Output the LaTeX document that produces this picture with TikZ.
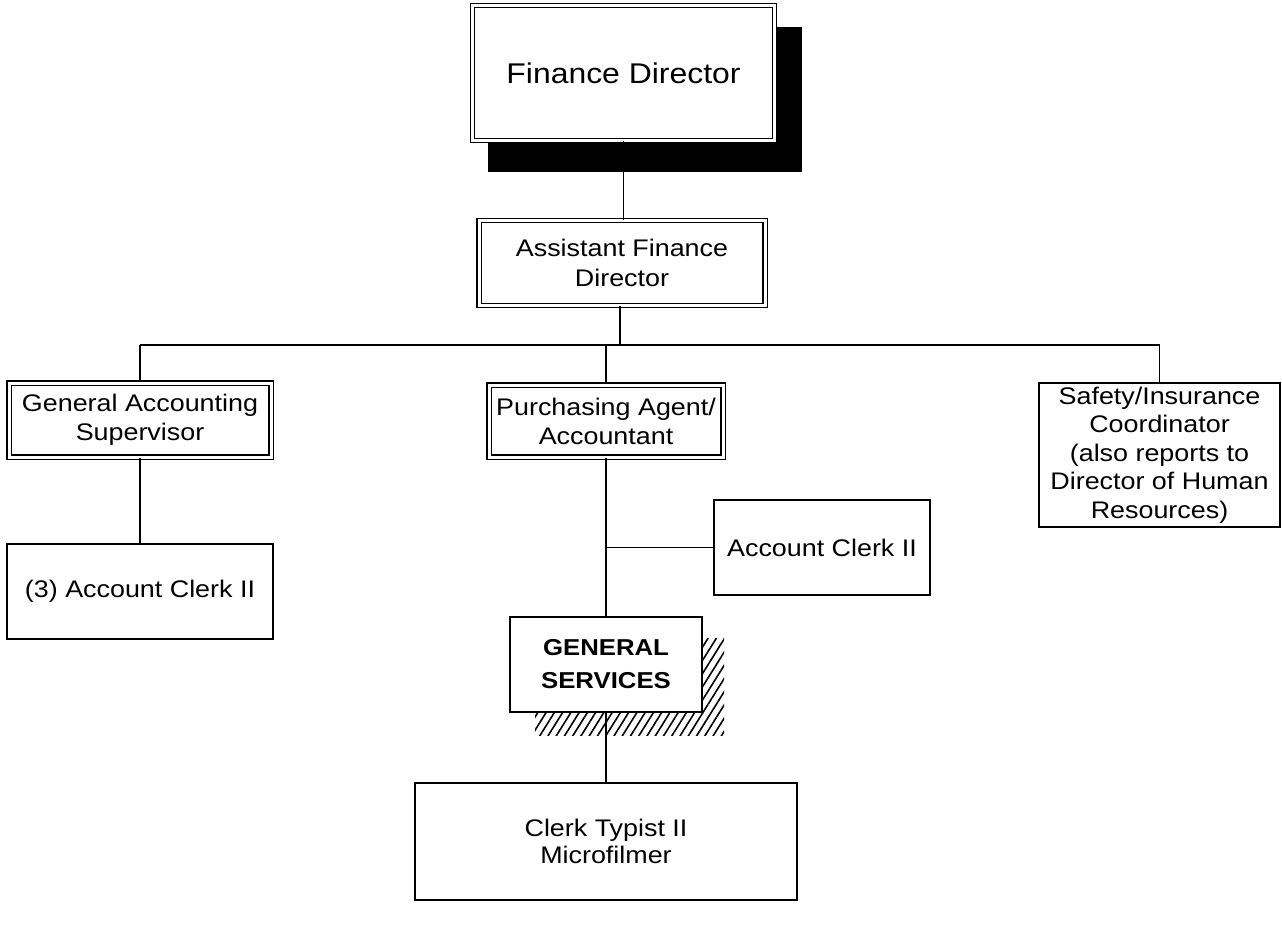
\documentclass[tikz,border=0pt]{standalone}
\usepackage{fontspec}
\setmainfont{Liberation Sans}[FakeStretch=1.12]
\usetikzlibrary{patterns.meta}
\begin{document}
\begin{tikzpicture}[x=1pt,y=-1pt,
  box/.style={draw, line width=1.8pt, rectangle, inner sep=0pt, align=center,
    fill=white, font=\fontsize{24}{29}\selectfont},
  dbox/.style={box, double=white, double distance=3pt, line width=1.2pt},
  gsbox/.style={box, line width=2.6pt, font=\fontsize{23}{33}\selectfont\bfseries},
  link/.style={line width=1.1pt}]
\useasboundingbox (0,0) rectangle (1282,926);

% drop shadow of the top box and hatched shadow of General Services
\fill (488,27) rectangle (802,172);
\fill[pattern={Lines[angle=58,distance=7pt,line width=1.6pt]}]
  (535,638) rectangle (724,735);

% positions
\node[dbox, minimum width=302pt, minimum height=135pt,
  font=\fontsize{28.5}{32}\selectfont] (fd) at (623.5,73) {Finance Director};
\node[dbox, minimum width=286pt, minimum height=85pt,
  font=\fontsize{24}{30}\selectfont] (afd) at (622,263)
  {Assistant Finance\\Director};
\node[dbox, minimum width=262pt, minimum height=74pt] (gas) at (140,420)
  {General Accounting\\Supervisor};
\node[dbox, minimum width=234pt, minimum height=72pt] (pa) at (606,421)
  {Purchasing Agent/\\Accountant};
\node[box, minimum width=241pt, minimum height=144pt,
  font=\fontsize{24}{28.5}\selectfont] (sic) at (1159.5,455)
  {Safety/Insurance\\Coordinator\\(also reports to\\Director of Human\\Resources)};
\node[box, minimum width=266pt, minimum height=95pt] (ac3) at (140,591.5)
  {(3) Account Clerk II};
\node[box, minimum width=216pt, minimum height=95pt] (ac) at (822,547.5)
  {Account Clerk II};
\node[gsbox, minimum width=192pt, minimum height=95pt] (gs) at (606,664.5)
  {GENERAL\\SERVICES};
\node[box, minimum width=382pt, minimum height=117pt,
  font=\fontsize{24}{27.5}\selectfont] (ct) at (606,841.5)
  {Clerk Typist II\\Microfilmer};

% reporting lines
\coordinate (bar) at (620,345);
\draw[link] (fd.south) -- (fd.south |- afd.north);
\draw[link] (afd.south -| bar) -- (bar);
\draw[link] (gas.north |- bar) -- (sic.north |- bar);
\draw[link] (gas.north |- bar) -- (gas.north);
\draw[link] (pa.north |- bar) -- (pa.north);
\draw[link] (sic.north |- bar) -- (sic.north);
\draw[link] (gas.south) -- (ac3.north);
\draw[link] (pa.south) -- (gs.north);
\draw[link] (pa.south |- ac.west) -- (ac.west);
\draw[link] (gs.south) -- (ct.north);
\end{tikzpicture}
\end{document}
